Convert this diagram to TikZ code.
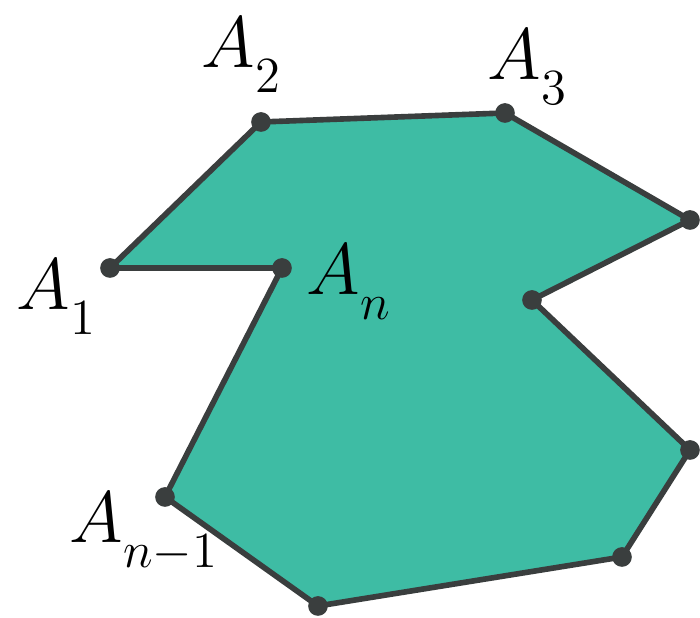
\documentclass[tikz,border=0pt]{standalone}
\usepackage{amsmath}
\usetikzlibrary{positioning}
\definecolor{polyfill}{RGB}{62,188,164}
\definecolor{polyedge}{RGB}{58,62,62}
\newcommand{\vlab}[1]{$A_{\lower4pt\hbox{$\scriptstyle #1$}}$}
\begin{document}
\begin{tikzpicture}[every node/.style={font=\fontsize{21}{24}\selectfont,inner sep=0pt,anchor=base west}]
\useasboundingbox (0,0) rectangle (7,6.18);
\coordinate (v1) at (1.10,3.50);
\coordinate (v2) at (2.61,4.96);
\coordinate (v3) at (5.05,5.05);
\coordinate (v4) at (6.90,3.98);
\coordinate (v5) at (5.32,3.18);
\coordinate (v6) at (6.90,1.68);
\coordinate (v7) at (6.22,0.61);
\coordinate (v8) at (3.18,0.12);
\coordinate (v9) at (1.65,1.21);
\coordinate (v10) at (2.82,3.50);
\filldraw[fill=polyfill,draw=polyedge,line width=1.6pt,line join=round] (v1)--(v2)--(v3)--(v4)--(v5)--(v6)--(v7)--(v8)--(v9)--(v10)--cycle;
\foreach \i in {1,...,10} \fill[polyedge] (v\i) circle (2.8pt);
\node (a1) at (0.16,3.08) {\vlab{1}};
\node (a2) at (2.01,5.50) {\vlab{2}};
\node (a3) at (4.87,5.38) {\vlab{3}};
\node (an) at (3.06,3.23) {\vlab{n}};
\node (anm) at (0.69,0.75) {\vlab{n-1}};
\end{tikzpicture}
\end{document}
